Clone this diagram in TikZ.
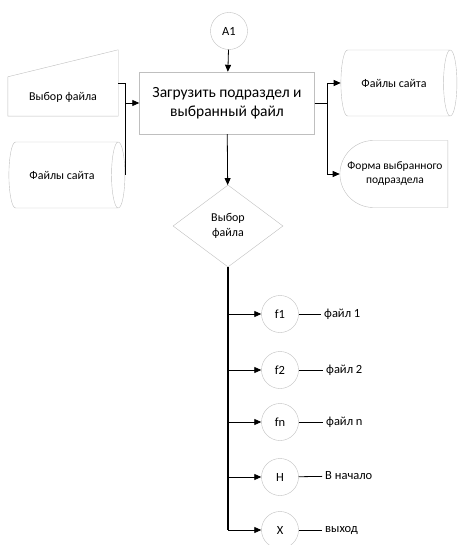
\documentclass[tikz,border=0pt]{standalone}
\usepackage{fontspec}
\setmainfont{Carlito}
\usetikzlibrary{shapes.geometric, shapes.misc, arrows.meta, positioning}

\begin{document}
\begin{tikzpicture}[x=1pt, y=-1pt]
\tikzstyle{process} = [rectangle, minimum width=175pt, minimum height=62pt, align=center, draw=black!25, font=\fontsize{15.5}{19}\selectfont]
\tikzstyle{connector} = [circle, minimum size=37pt, inner sep=0pt, draw=black!25, font=\fontsize{12.5}{15}\selectfont]
\tikzstyle{datastore} = [cylinder, shape aspect=0.9, minimum width=66pt, minimum height=116pt, draw=black!25, font=\fontsize{12}{14}\selectfont]
\tikzstyle{decision} = [diamond, minimum width=110pt, minimum height=82pt, inner sep=0pt, align=center, draw=black!25, font=\fontsize{12}{15}\selectfont]
\tikzstyle{display} = [rounded rectangle, rounded rectangle right arc=none, minimum width=110pt, minimum height=67pt, inner xsep=1pt, align=center, draw=black!25, font=\fontsize{11.5}{14}\selectfont]
\tikzstyle{note} = [anchor=west, inner sep=3pt, font=\fontsize{12.5}{15}\selectfont]
\tikzstyle{arrow} = [thick, -{Triangle[length=7pt, width=6pt]}]

\useasboundingbox (0,0) rectangle (459,545);

\node (a1) [connector] at (229,31) {A1};
\node (load) [process] at (227,103) {Загрузить подраздел и\\выбранный файл};

% ручной ввод
\node (input) [minimum width=110pt, minimum height=38pt, font=\fontsize{12}{14}\selectfont] at (63,97) {Выбор файла};
\draw [draw=black!25] (input.south west) -- (input.south east) -- ([yshift=28pt]input.north east) -- ([yshift=1pt]input.north west) -- cycle;
\coordinate (inout) at ([yshift=14pt]input.east);
\node (site1) [datastore] at (62,175) {Файлы сайта};

\node (site2) [datastore] at (394,83) {Файлы сайта};
\node (form) [display] at (395,174) {Форма выбранного\\подраздела};

\node (choice) [decision] at (228,226) {Выбор\\файла};

\node (f1) [connector] at (280,314) {f1};
\node (f2) [connector] at (280,370) {f2};
\node (fn) [connector] at (280,422) {fn};
\node (home) [connector] at (280,477) {Н};
\node (quit) [connector] at (280,530) {Х};

\node (l1) [note] at (321,314) {файл 1};
\node (l2) [note] at (323,370) {файл 2};
\node (ln) [note] at (323,422) {файл n};
\node (lh) [note] at (322,476) {В начало};
\node (lq) [note] at (322,530) {выход};

\draw [arrow] (a1) -- (load);
\draw [thick] (inout) -| (site1.east);
\draw [arrow] (site1.east |- load.west) -- (load.west);
\draw [arrow] (load.east) -- ++(13,0) |- (site2.west);
\draw [arrow] (load.east) -- ++(13,0) |- (form.west);
\draw [arrow] (load) -- (choice);

\draw [line width=1.8pt] (choice.south) -- (choice.south |- quit);
\foreach \n in {f1, f2, fn, home, quit}
  \draw [arrow] (choice.south |- \n) -- (\n);

\draw [thick] (f1) -- (l1);
\draw [thick] (f2) -- (l2);
\draw [thick] (fn) -- (ln);
\draw [thick] (home) -- (lh);
\draw [thick] (quit) -- (lq);
\end{tikzpicture}
\end{document}
